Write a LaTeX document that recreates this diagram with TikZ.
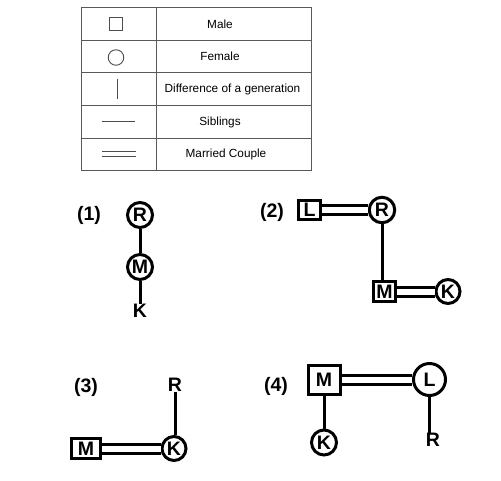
\documentclass[tikz,border=0pt]{standalone}
\usepackage{fontspec}
\setmainfont{Liberation Sans}
\begin{document}
\begin{tikzpicture}[x=1pt,y=-1pt,
  tbl/.style={draw=black!65, line width=0.9pt},
  sym/.style={draw=black!70, line width=0.9pt},
  lbl/.style={inner sep=0pt, anchor=base, font=\fontsize{11.8}{13}\selectfont},
  big/.style={inner sep=0pt, font=\bfseries\fontsize{19.5}{21}\selectfont},
  fem/.style={big, circle, draw, line width=3pt},
  mal/.style={big, rectangle, draw, line width=3pt},
  gen/.style={line width=3pt},
  mar/.style={double, line width=3pt, double distance=6pt},
]
\useasboundingbox (0,0) rectangle (501,480);
% legend table
\draw[tbl] (81,7.3) rectangle (311,170.7);
\draw[tbl] (156,7.3) -- (156,170.7);
\foreach \yy in {40,72.7,105.3,138.7} \draw[tbl] (81,\yy) -- (311,\yy);
\node[sym, rectangle, minimum size=13pt, inner sep=0pt] (lgm) at (116.3,23.7) {};
\node[sym, circle, minimum size=15.5pt, inner sep=0pt] (lgf) at (116,57.5) {};
\draw[sym] (117.3,78.7) -- (117.3,98.7);
\draw[sym] (102.3,121) -- (135,121);
\draw[sym] (102.3,151.8) -- (135.7,151.8);
\draw[sym] (102.3,156) -- (135.7,156);
\node[lbl] (tm) at (220,28.3) {Male};
\node[lbl] (tf) at (220,60.3) {Female};
\node[lbl] (td) at (232.5,92.7) {Difference of a generation};
\node[lbl] (ts) at (220,125.7) {Siblings};
\node[lbl] (tc) at (226,157.3) {Married Couple};
% (1)
\node[big] (n1) at (89,215) {(1)};
\node[fem, minimum size=25pt] (r1) at (140,215) {R};
\node[fem, minimum size=25pt] (m1) at (140,267) {M};
\node[big] (k1) at (140,311) {K};
\draw[gen] (r1) -- (m1);
\draw[gen] (m1) -- (k1);
% (2)
\node[big] (n2) at (272,212) {(2)};
\node[mal, minimum width=22pt, minimum height=19pt] (l2) at (309.5,210) {L};
\node[fem, minimum size=25.5pt] (r2) at (382,210) {R};
\node[mal, minimum width=22pt, minimum height=20pt] (m2) at (384.5,291.5) {M};
\node[fem, minimum size=24pt] (k2) at (448,291.5) {K};
\draw[mar] (l2) -- (r2);
\draw[gen] (r2.south) -- (r2.south |- m2.north);
\draw[mar] (m2) -- (k2);
% (3)
\node[big] (n3) at (86,387) {(3)};
\node[big] (r3) at (175,385) {R};
\node[fem, minimum size=24pt] (k3) at (174,448.5) {K};
\node[mal, minimum width=29pt, minimum height=20.5pt] (m3) at (86,448.5) {M};
\draw[gen] (r3) -- (r3 |- k3.north);
\draw[mar] (m3) -- (k3);
% (4)
\node[big] (n4) at (276,386) {(4)};
\node[mal, minimum width=32pt, minimum height=29pt] (m4) at (324,379.5) {M};
\node[fem, minimum size=32pt] (l4) at (429.5,379.5) {L};
\node[fem, minimum size=25pt] (k4) at (324,442.5) {K};
\node[big] (r4) at (433,440) {R};
\draw[mar] (m4) -- (l4);
\draw[gen] (m4) -- (k4);
\draw[gen] (l4.south) -- (l4.south |- r4.north);
\end{tikzpicture}
\end{document}
